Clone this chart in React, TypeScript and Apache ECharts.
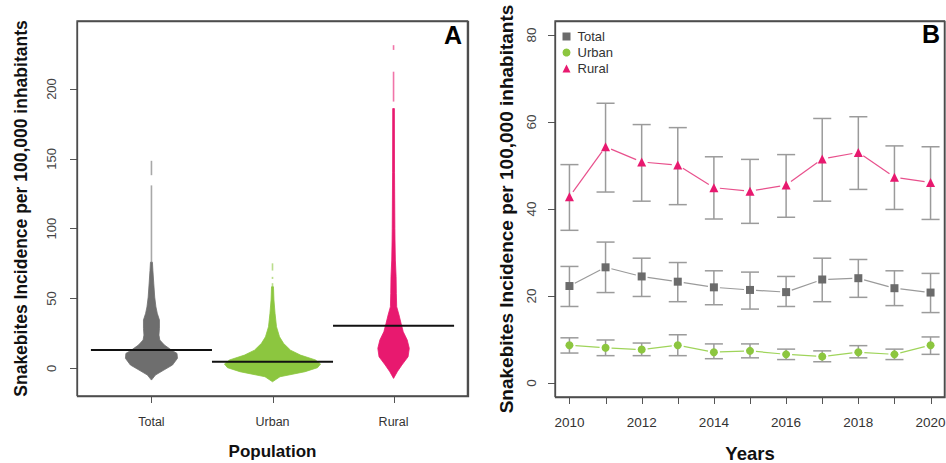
import React, { useEffect, useRef } from "react";
import * as echarts from "echarts";

// ---------- Panel A data ----------
const violinCategories = ["Total", "Urban", "Rural"];
const violinColors = ["#6e6e6e", "#8cc63f", "#e8196f"];
const violinMeans = [13.1, 4.8, 30.5];

const totalProfileValues = [-8.4, -4.8, -1.2, 2.4, 7.2, 10.7, 13.1, 16.7, 20.3, 23.8, 28.6, 34.6, 39.4, 44, 51, 61, 70, 76];
const totalProfileHalfWidths = [0, 0.033, 0.103, 0.174, 0.215, 0.211, 0.165, 0.107, 0.069, 0.062, 0.066, 0.066, 0.048, 0.037, 0.027, 0.019, 0.012, 0.008];
const totalTails = [[76, 131], [138.3, 148.6]];

const urbanProfileValues = [-9.6, -6, -2.4, 0.5, 3.1, 6, 9.5, 13, 17.9, 22.6, 29.8, 39.4, 49, 58.4];
const urbanProfileHalfWidths = [0, 0.062, 0.269, 0.372, 0.397, 0.355, 0.231, 0.149, 0.091, 0.058, 0.033, 0.021, 0.012, 0.008];
const urbanTails = [[58.4, 61], [64, 65.5], [70, 75.2]];

const ruralProfileValues = [-7.2, -2.4, 2.4, 8.3, 14.3, 20.3, 26.2, 32.2, 38.2, 44.1, 53.7, 65.6, 77.5, 91.9, 100, 140, 186];
const ruralProfileHalfWidths = [0, 0.031, 0.069, 0.12, 0.13, 0.113, 0.08, 0.062, 0.045, 0.026, 0.023, 0.021, 0.015, 0.012, 0.011, 0.008, 0.007];
const ruralTails = [[191, 212.4], [228, 231.4]];

const profileValues = [totalProfileValues, urbanProfileValues, ruralProfileValues];
const profileHalfWidths = [totalProfileHalfWidths, urbanProfileHalfWidths, ruralProfileHalfWidths];
const profileTails = [totalTails, urbanTails, ruralTails];

const xTicksA = [1, 2, 3];
const yTicksA = [0, 50, 100, 150, 200];

// ---------- Panel B data ----------
const years = [2010, 2011, 2012, 2013, 2014, 2015, 2016, 2017, 2018, 2019, 2020];
const yearLabels = [2010, 2012, 2014, 2016, 2018, 2020];
const yTicksB = [0, 20, 40, 60, 80];

const totalMean = [22.3, 26.6, 24.5, 23.3, 22.0, 21.4, 20.9, 23.8, 24.1, 21.8, 20.8];
const totalLower = [17.6, 20.8, 19.9, 18.7, 18.0, 17.0, 17.6, 18.7, 19.7, 17.8, 16.2];
const totalUpper = [26.8, 32.4, 28.7, 27.7, 25.8, 25.5, 24.5, 28.7, 28.4, 25.8, 25.2];

const urbanMean = [8.7, 8.1, 7.7, 8.7, 7.1, 7.4, 6.6, 6.1, 7.1, 6.6, 8.7];
const urbanLower = [6.9, 6.3, 6.3, 6.3, 5.6, 5.8, 5.4, 4.9, 5.8, 5.4, 6.6];
const urbanUpper = [10.4, 9.9, 9.2, 11.1, 9.0, 9.0, 7.8, 7.4, 8.6, 7.8, 10.6];

const ruralMean = [42.8, 54.3, 50.8, 50.1, 44.9, 44.1, 45.5, 51.5, 53.0, 47.3, 46.1];
const ruralLower = [35.1, 43.9, 41.8, 41.0, 37.7, 36.7, 38.1, 41.8, 44.5, 39.9, 37.6];
const ruralUpper = [50.2, 64.3, 59.4, 58.7, 52.0, 51.4, 52.5, 60.8, 61.2, 54.5, 54.3];

const FONT = "'Liberation Sans', Arial, sans-serif";

const gridA = { left: 77, top: 21, width: 391, height: 375 };
const gridB = { left: 555, top: 21, width: 390, height: 376 };

const xRangeA = [0.385, 3.615];
const yRangeA = [-19.8, 248.7];
const xRangeB = [2009.6, 2020.4];
const yRangeB = [-3.2, 83.2];

export default function App() {
  const ref = useRef<HTMLDivElement>(null);

  useEffect(() => {
    if (!ref.current) return;
    const chart = echarts.init(ref.current, null, { renderer: "svg" });

    const axisTickStyle = { show: true, length: 7, inside: false, lineStyle: { color: "#555", width: 1 } };
    const frameStyle = { stroke: "#4d4d4d", lineWidth: 1.3 };

    // frame + bottom ticks, positioned through the axes' scales
    const frameSeries = (axisIdx: number, xr: number[], yr: number[], xTicks: number[]) => ({
      type: "custom",
      name: "frame" + axisIdx,
      xAxisIndex: axisIdx,
      yAxisIndex: axisIdx,
      clip: false,
      z: 20,
      data: xTicks.map((t) => [t, yr[0]]),
      renderItem: (params: any, api: any) => {
        const q = api.coord([api.value(0), api.value(1)]);
        const x = Math.round(q[0]) + 0.5;
        const children: any[] = [
          { type: "line", shape: { x1: x, y1: q[1], x2: x, y2: q[1] + 7 }, style: { stroke: "#555", lineWidth: 1 } },
        ];
        if (params.dataIndex === 0) {
          const bl = api.coord([xr[0], yr[0]]);
          const tr = api.coord([xr[1], yr[1]]);
          children.push({
            type: "polyline",
            shape: { points: [[bl[0], bl[1]], [tr[0] - 0.6, bl[1]], [tr[0] - 0.6, tr[1]], [bl[0], tr[1]], [bl[0], bl[1]]] },
            style: { ...frameStyle, fill: null },
          });
        }
        return { type: "group", children };
      },
    });

    const seriesB: any[] = [];
    const groupsB = [
      { name: "Total", mean: totalMean, lower: totalLower, upper: totalUpper, color: "#6b6b6b", lineColor: "#9a9a9a", symbol: "rect", size: 8 },
      { name: "Urban", mean: urbanMean, lower: urbanLower, upper: urbanUpper, color: "#8cc63f", lineColor: "#9fd45a", symbol: "circle", size: 8 },
      { name: "Rural", mean: ruralMean, lower: ruralLower, upper: ruralUpper, color: "#e8196f", lineColor: "#e8508c", symbol: "triangle", size: 9 },
    ];

    groupsB.forEach((g) => {
      seriesB.push({
        type: "custom",
        name: g.name + " CI",
        xAxisIndex: 1,
        yAxisIndex: 1,
        data: years.map((y, i) => [y, g.lower[i], g.upper[i]]),
        renderItem: (params: any, api: any) => {
          const x = api.value(0);
          const lo = api.value(1);
          const hi = api.value(2);
          const pLo = api.coord([x, lo]);
          const pHi = api.coord([x, hi]);
          const lLo = api.coord([x - 0.25, lo]);
          const rLo = api.coord([x + 0.25, lo]);
          const lHi = api.coord([x - 0.25, hi]);
          const rHi = api.coord([x + 0.25, hi]);
          const st = { stroke: "#9b9b9b", lineWidth: 1.5 };
          return {
            type: "group",
            children: [
              { type: "line", shape: { x1: pLo[0], y1: pLo[1], x2: pHi[0], y2: pHi[1] }, style: st },
              { type: "line", shape: { x1: lLo[0], y1: lLo[1], x2: rLo[0], y2: rLo[1] }, style: st },
              { type: "line", shape: { x1: lHi[0], y1: lHi[1], x2: rHi[0], y2: rHi[1] }, style: st },
            ],
          };
        },
        z: 2,
      });
      seriesB.push({
        type: "custom",
        name: g.name + " line",
        xAxisIndex: 1,
        yAxisIndex: 1,
        data: years.map((y, i) => [y, g.mean[i]]),
        renderItem: (params: any, api: any) => {
          const i = params.dataIndex;
          if (i >= years.length - 1) return null;
          const p0 = api.coord([years[i], g.mean[i]]);
          const p1 = api.coord([years[i + 1], g.mean[i + 1]]);
          const dx = p1[0] - p0[0];
          const dy = p1[1] - p0[1];
          const len = Math.sqrt(dx * dx + dy * dy);
          const gap = 6;
          const ux = dx / len;
          const uy = dy / len;
          return {
            type: "line",
            shape: { x1: p0[0] + ux * gap, y1: p0[1] + uy * gap, x2: p1[0] - ux * gap, y2: p1[1] - uy * gap },
            style: { stroke: g.lineColor, lineWidth: 1.2 },
          };
        },
        z: 3,
      });
    });
    groupsB.forEach((g) => {
      seriesB.push({
        type: "scatter",
        name: g.name,
        xAxisIndex: 1,
        yAxisIndex: 1,
        symbol: g.symbol,
        symbolSize: g.size,
        itemStyle: { color: g.color, opacity: 1 },
        data: years.map((y, i) => [y, g.mean[i]]),
        z: 4,
      });
    });

    const option: any = {
      animation: false,
      backgroundColor: "#ffffff",
      textStyle: { fontFamily: FONT },
      grid: [
        { ...gridA, outerBoundsMode: "none", containLabel: false },
        { ...gridB, outerBoundsMode: "none", containLabel: false },
      ],
      legend: {
        data: groupsB.map((g) => g.name),
        orient: "vertical",
        left: 562.5,
        top: 28.5,
        padding: 0,
        itemWidth: 8,
        itemHeight: 8,
        itemGap: 0,
        textStyle: { fontFamily: FONT, fontSize: 13, color: "#333", lineHeight: 16, padding: [0, 0, 0, 2] },
        selectedMode: false,
      },
      xAxis: [
        {
          type: "value",
          gridIndex: 0,
          position: "bottom",
          min: xRangeA[0],
          max: xRangeA[1],
          axisLine: { show: false, onZero: false },
          splitLine: { show: false },
          axisTick: { show: false },
          axisLabel: {
            customValues: xTicksA,
            formatter: (v: number) => violinCategories[Math.round(v) - 1] || "",
            fontFamily: FONT,
            fontSize: 12.5,
            color: "#333",
            margin: 19,
          },
          name: "Population",
          nameLocation: "middle",
          nameGap: 47,
          nameTextStyle: { fontFamily: FONT, fontSize: 17, fontWeight: "bold", color: "#111" },
        },
        {
          type: "value",
          gridIndex: 1,
          position: "bottom",
          min: xRangeB[0],
          max: xRangeB[1],
          axisLine: { show: false, onZero: false },
          splitLine: { show: false },
          axisTick: { show: false },
          axisLabel: {
            customValues: yearLabels,
            formatter: (v: number) => String(v),
            fontFamily: FONT,
            fontSize: 13.5,
            color: "#333",
            margin: 18,
          },
          name: "Years",
          nameLocation: "middle",
          nameGap: 47,
          nameTextStyle: { fontFamily: FONT, fontSize: 18.5, fontWeight: "bold", color: "#111" },
        },
      ],
      yAxis: [
        {
          type: "value",
          gridIndex: 0,
          position: "left",
          min: yRangeA[0],
          max: yRangeA[1],
          axisLine: { show: false, onZero: false },
          splitLine: { show: false },
          axisTick: { ...axisTickStyle, customValues: yTicksA },
          axisLabel: {
            customValues: yTicksA,
            rotate: 90,
            fontFamily: FONT,
            fontSize: 13,
            color: "#444",
            margin: 19,
          },
          name: "Snakebites Incidence per 100,000 inhabitants",
          nameLocation: "middle",
          nameRotate: 90,
          nameGap: 47,
          nameTextStyle: { fontFamily: FONT, fontSize: 17.5, fontWeight: "bold", color: "#111" },
        },
        {
          type: "value",
          gridIndex: 1,
          position: "left",
          min: yRangeB[0],
          max: yRangeB[1],
          axisLine: { show: false, onZero: false },
          splitLine: { show: false },
          axisTick: { ...axisTickStyle, customValues: yTicksB },
          axisLabel: {
            customValues: yTicksB,
            rotate: 90,
            fontFamily: FONT,
            fontSize: 13.5,
            color: "#444",
            margin: 17,
          },
          name: "Snakebites Incidence per 100,000 inhabitants",
          nameLocation: "middle",
          nameRotate: 90,
          nameGap: 39,
          nameTextStyle: { fontFamily: FONT, fontSize: 19, fontWeight: "bold", color: "#111" },
        },
      ],
      graphic: [
        {
          type: "polyline",
          shape: {
            points: [
              [gridA.left + 0.5, gridA.top + 0.5],
              [gridA.left + gridA.width + 0.5, gridA.top + 0.5],
              [gridA.left + gridA.width + 0.5, gridA.top + gridA.height + 0.5],
              [gridA.left + 0.5, gridA.top + gridA.height + 0.5],
              [gridA.left + 0.5, gridA.top + 0.5],
            ],
          },
          style: { ...frameStyle, fill: null },
          z: 30,
        },
        {
          type: "polyline",
          shape: {
            points: [
              [gridB.left + 0.5, gridB.top + 0.5],
              [gridB.left + gridB.width, gridB.top + 0.5],
              [gridB.left + gridB.width, gridB.top + gridB.height + 0.5],
              [gridB.left + 0.5, gridB.top + gridB.height + 0.5],
              [gridB.left + 0.5, gridB.top + 0.5],
            ],
          },
          style: { ...frameStyle, fill: null },
          z: 30,
        },
        { type: "text", left: 444, top: 22, style: { text: "A", font: `bold 25px ${FONT}`, fill: "#000" } },
        { type: "text", left: 922, top: 21, style: { text: "B", font: `bold 25px ${FONT}`, fill: "#000" } },
      ],
      series: [
        {
          type: "custom",
          name: "violins",
          xAxisIndex: 0,
          yAxisIndex: 0,
          data: violinCategories.map((c, i) => [i + 1, violinMeans[i]]),
          renderItem: (params: any, api: any) => {
            const i = params.dataIndex;
            const cx = api.value(0);
            const vals = profileValues[i];
            const hws = profileHalfWidths[i];
            const left: number[][] = [];
            const right: number[][] = [];
            for (let k = 0; k < vals.length; k++) {
              left.push(api.coord([cx - hws[k], vals[k]]));
              right.push(api.coord([cx + hws[k], vals[k]]));
            }
            const points = left.concat(right.reverse());
            const children: any[] = [
              { type: "polygon", shape: { points }, style: { fill: violinColors[i], stroke: violinColors[i], lineWidth: 0.8 } },
            ];
            profileTails[i].forEach((t) => {
              const a = api.coord([cx, t[0]]);
              const b = api.coord([cx, t[1]]);
              children.push({
                type: "line",
                shape: { x1: a[0], y1: a[1], x2: b[0], y2: b[1] },
                style: { stroke: violinColors[i], lineWidth: 1.6, opacity: 0.6 },
              });
            });
            return { type: "group", children };
          },
          z: 2,
        },
        {
          type: "custom",
          name: "means",
          xAxisIndex: 0,
          yAxisIndex: 0,
          data: violinCategories.map((c, i) => [i + 1, violinMeans[i]]),
          renderItem: (params: any, api: any) => {
            const cx = api.value(0);
            const m = api.value(1);
            const a = api.coord([cx - 0.5, m]);
            const b = api.coord([cx + 0.5, m]);
            return { type: "line", shape: { x1: a[0], y1: a[1], x2: b[0], y2: b[1] }, style: { stroke: "#111", lineWidth: 2 } };
          },
          z: 5,
        },
        ...seriesB,
        frameSeries(0, xRangeA, yRangeA, xTicksA),
        frameSeries(1, xRangeB, yRangeB, years),
      ],
    };

    chart.setOption(option);
    return () => chart.dispose();
  }, []);

  return (
    <div
      ref={ref}
      style={{ position: "fixed", left: 0, top: 0, width: 946, height: 463, background: "#fff" }}
    />
  );
}
